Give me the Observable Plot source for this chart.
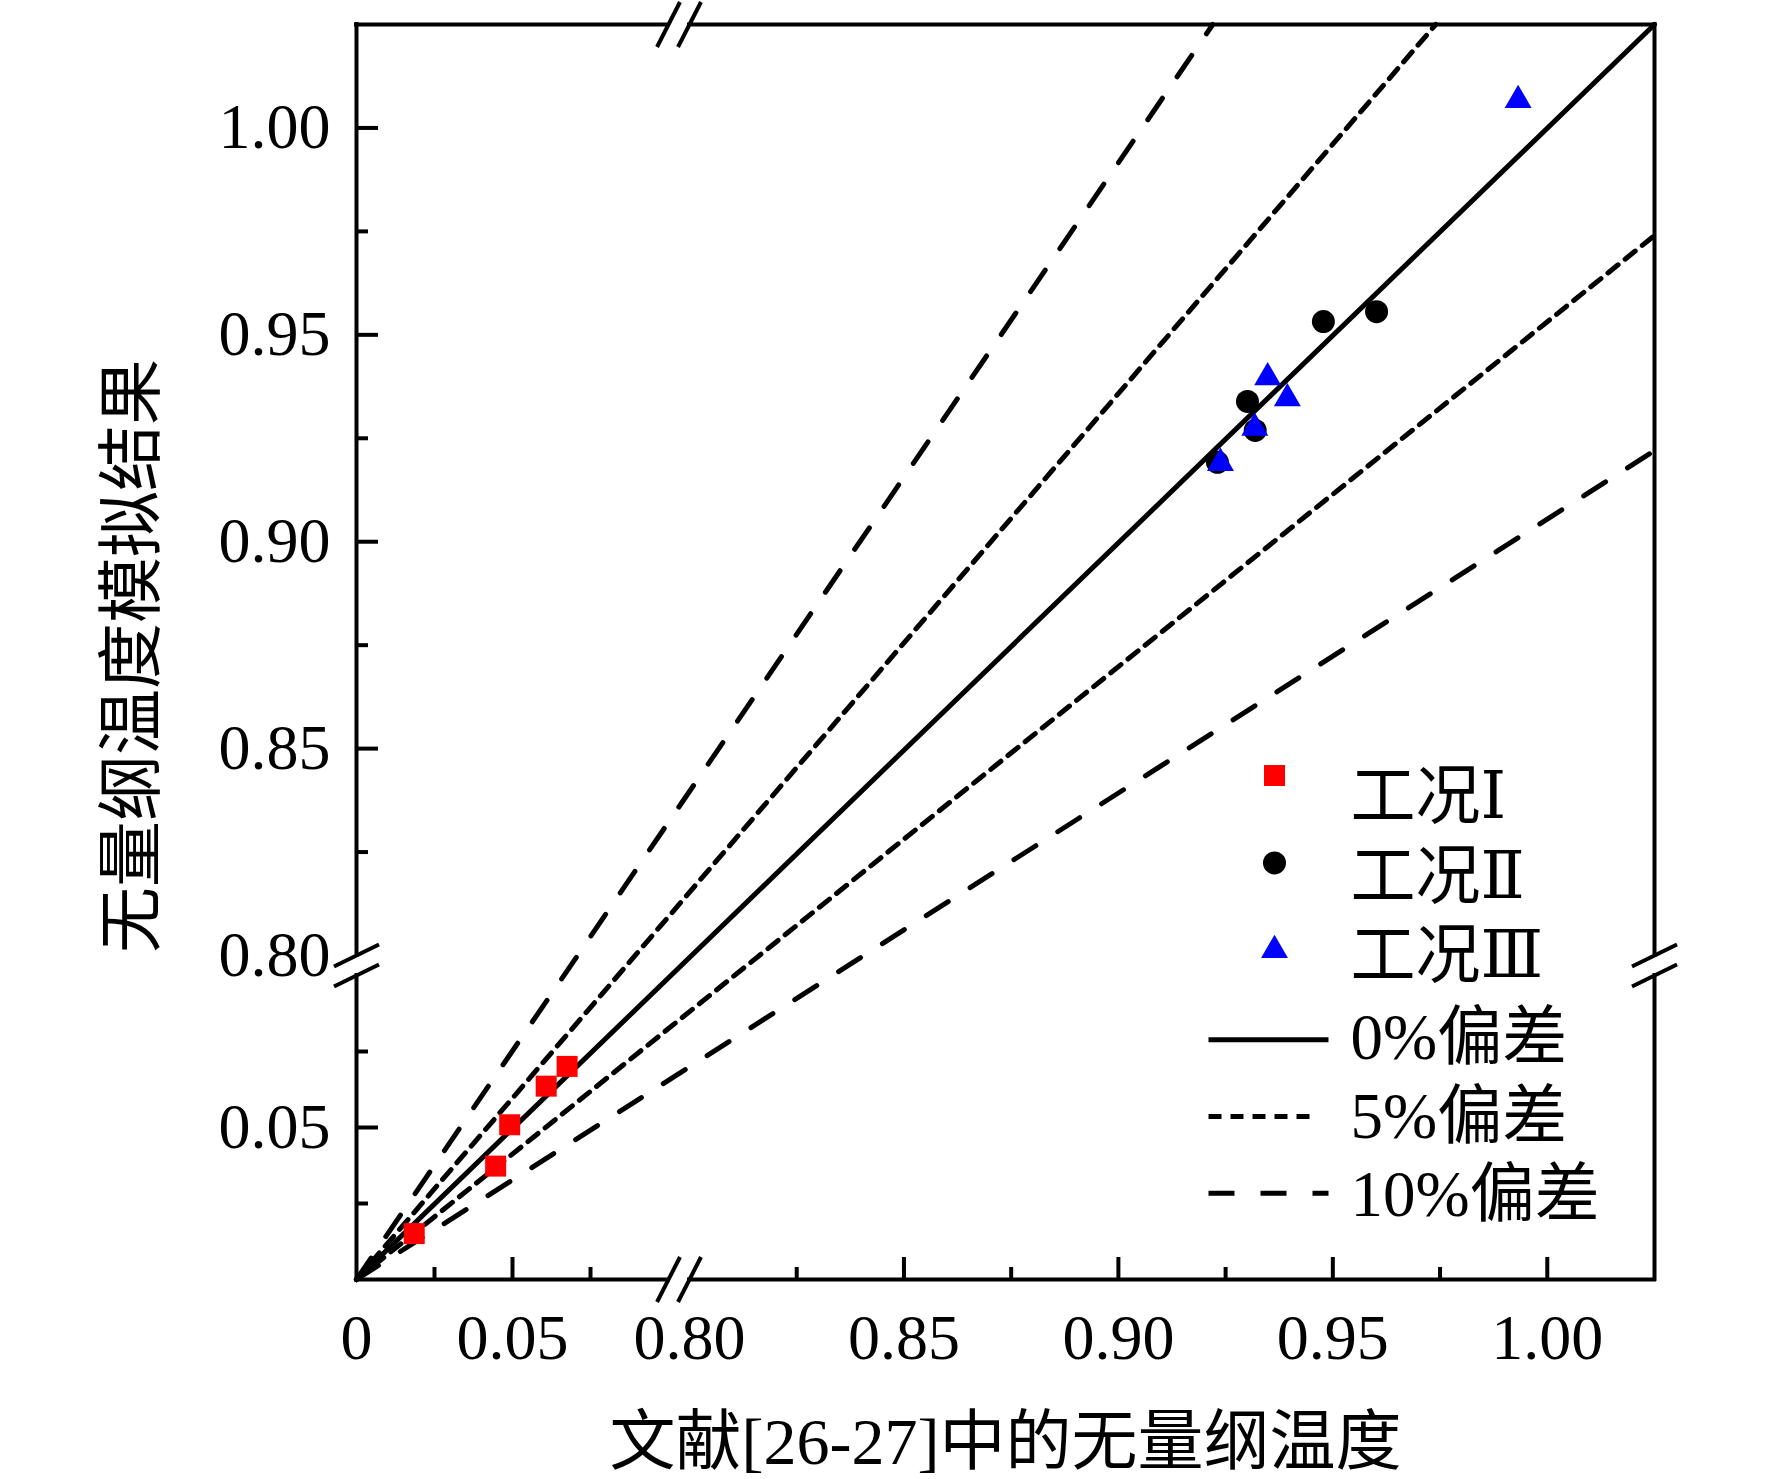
<!DOCTYPE html>
<html>
<head>
<meta charset="utf-8">
<script src="https://cdn.jsdelivr.net/npm/d3@7"></script>
<script src="https://cdn.jsdelivr.net/npm/@observablehq/plot@0.6"></script>
<style>
html, body { margin: 0; padding: 0; background: #fff; overflow: hidden; }
#chart svg { display: block; }
</style>
</head>
<body>
<div id="chart"></div>
<script>
// ---- data ----
const case1X = [0.0185, 0.0446, 0.0491, 0.0608, 0.0675];
const case1Y = [0.0151, 0.0373, 0.0509, 0.0636, 0.0701];
const case2X = [0.9478, 0.9602, 0.9301, 0.9319, 0.9231];
const case2Y = [0.9532, 0.9556, 0.9339, 0.9269, 0.9192];
const case3X = [0.9348, 0.9394, 0.9318, 0.9238, 0.9932];
const case3Y = [0.9397, 0.9346, 0.9275, 0.9190, 1.0067];
const seriesNames = ["工况Ⅰ", "工况Ⅱ", "工况Ⅲ"];
const lineNames = ["0%偏差", "5%偏差", "10%偏差"];

// reference (deviation) lines: start at origin, end where they leave the frame
const refGroup = ["0%", "5%", "5%", "10%", "10%"];
const refEndX = [1.025, 0.974, 1.025, 0.922, 1.025];
const refEndY = [1.025, 1.025, 0.974, 1.025, 0.922];

// axes (broken at 0.1 | 0.8)
const axisDomain = [0, 0.1, 0.8, 1.025];
const xMajor = [0, 0.05, 0.80, 0.85, 0.90, 0.95, 1.00];
const xMajorLabels = ["0", "0.05", "0.80", "0.85", "0.90", "0.95", "1.00"];
const yMajor = [0.05, 0.80, 0.85, 0.90, 0.95, 1.00];
const yMajorLabels = ["0.05", "0.80", "0.85", "0.90", "0.95", "1.00"];
const xTickMajor = [0.05, 0.85, 0.90, 0.95, 1.00];
const xTickMinor = [0.025, 0.075, 0.825, 0.875, 0.925, 0.975];
const yTickMajor = [0.05, 0.85, 0.90, 0.95, 1.00];
const yTickMinor = [0.025, 0.075, 0.825, 0.875, 0.925, 0.975];
const breakValues = [0.1, 0.8];
const xTitle = "文献[26-27]中的无量纲温度";
const yTitle = "无量纲温度模拟结果";

// ---- build tables ----
const toRows = (xs, ys) => xs.map((x, i) => ({x, y: ys[i]}));
const pts1 = toRows(case1X, case1Y);
const pts2 = toRows(case2X, case2Y);
const pts3 = toRows(case3X, case3Y);
const refRows = [];
refGroup.forEach((g, i) => {
  refRows.push({id: i, g, x: 0, y: 0});
  refRows.push({id: i, g, x: refEndX[i], y: refEndY[i]});
});

const W = 1772, H = 1479;
const mL = 356, mR = 118, mT = 24, mB = 200;
const frameW = W - mL - mR, frameH = H - mT - mB;

const FONT = "'Liberation Serif', 'Times New Roman', 'DejaVu Serif', 'Noto Sans CJK SC', serif";
const ink = "#000";
const frameSW = 4, lineSW = 5;
const DOTTED = "13,9", DASHED = "26,26";

// break marks (short parallel slashes)
const slashOnX = {draw(ctx) { ctx.moveTo(-11.5, 22.5); ctx.lineTo(11.5, -22.5); }};
const slashOnY = {draw(ctx) { ctx.moveTo(-22.5, 11); ctx.lineTo(22.5, -11); }};
// legend line samples
const legendSeg = (len) => ({draw(ctx) { ctx.moveTo(-60, 0); ctx.lineTo(-60 + len, 0); }});

const marks = [];

// reference lines
marks.push(Plot.line(refRows.filter(d => d.g === "0%"), {x: "x", y: "y", z: "id", stroke: ink, strokeWidth: lineSW}));
marks.push(Plot.line(refRows.filter(d => d.g === "5%"), {x: "x", y: "y", z: "id", stroke: ink, strokeWidth: lineSW, strokeDasharray: DOTTED}));
marks.push(Plot.line(refRows.filter(d => d.g === "10%"), {x: "x", y: "y", z: "id", stroke: ink, strokeWidth: lineSW, strokeDasharray: DASHED}));

// frame with breaks
for (const [a, b] of [[0, 0.1], [0.8, 1.025]]) {
  marks.push(Plot.ruleY([0, 1.025], {y: d => d, x1: a, x2: b, stroke: ink, strokeWidth: frameSW, strokeLinecap: "square"}));
  marks.push(Plot.ruleX([0, 1.025], {x: d => d, y1: a, y2: b, stroke: ink, strokeWidth: frameSW, strokeLinecap: "square"}));
}
marks.push(Plot.dot(breakValues, {x: d => d, y: 0, symbol: slashOnX, r: 10, fill: "none", stroke: ink, strokeWidth: frameSW}));
marks.push(Plot.dot(breakValues, {x: d => d, y: 1.025, symbol: slashOnX, r: 10, fill: "none", stroke: ink, strokeWidth: frameSW}));
marks.push(Plot.dot(breakValues, {y: d => d, x: 0, symbol: slashOnY, r: 10, fill: "none", stroke: ink, strokeWidth: frameSW}));
marks.push(Plot.dot(breakValues, {y: d => d, x: 1.025, symbol: slashOnY, r: 10, fill: "none", stroke: ink, strokeWidth: frameSW}));

// inward ticks
marks.push(Plot.tickX(xTickMajor, {x: d => d, insetTop: frameH - 22, stroke: ink, strokeWidth: frameSW}));
marks.push(Plot.tickX(xTickMinor, {x: d => d, insetTop: frameH - 12, stroke: ink, strokeWidth: frameSW}));
marks.push(Plot.tickY(yTickMajor, {y: d => d, insetRight: frameW - 22, stroke: ink, strokeWidth: frameSW}));
marks.push(Plot.tickY(yTickMinor, {y: d => d, insetRight: frameW - 12, stroke: ink, strokeWidth: frameSW}));

// tick labels
marks.push(Plot.text(xMajor, {x: d => d, text: (d, i) => xMajorLabels[i], frameAnchor: "bottom", dy: 34, textAnchor: "middle", lineAnchor: "top", fontSize: 64, fill: ink}));
marks.push(Plot.text(yMajor, {y: d => d, text: (d, i) => yMajorLabels[i], frameAnchor: "left", dx: -26, textAnchor: "end", lineAnchor: "middle", fontSize: 64, fill: ink}));

// axis titles
marks.push(Plot.text([xTitle], {text: d => d, frameAnchor: "bottom", dy: 163, textAnchor: "middle", lineAnchor: "middle", fontSize: 66, fill: ink}));
marks.push(Plot.text([yTitle], {text: d => d, frameAnchor: "left", dx: -224, dy: 4, rotate: -90, textAnchor: "middle", lineAnchor: "middle", fontSize: 66, fill: ink}));

// data points
marks.push(Plot.dot(pts2, {x: "x", y: "y", symbol: "circle", r: 11.5, fill: "#000", stroke: "none"}));
marks.push(Plot.dot(pts1, {x: "x", y: "y", symbol: "square", r: 11.85, fill: "#ff0000", stroke: "none"}));
marks.push(Plot.dot(pts3, {x: "x", y: "y", symbol: "triangle", r: 10, fill: "#0000ff", stroke: "none"}));

// legend
const legendSymbols = [
  {symbol: "square", fill: "#ff0000", r: 11.85},
  {symbol: "circle", fill: "#000", r: 11.5},
  {symbol: "triangle", fill: "#0000ff", r: 10}
];
seriesNames.forEach((name, i) => {
  const s = legendSymbols[i];
  marks.push(Plot.dot([name], {frameAnchor: "top-left", dx: 918, dy: 751 + i * 87.4, symbol: s.symbol, fill: s.fill, r: s.r, stroke: "none"}));
  marks.push(Plot.text([name], {text: d => d, frameAnchor: "top-left", dx: 994, dy: 773 + i * 79.3, textAnchor: "start", lineAnchor: "middle", fontSize: 65, fill: ink}));
});
const legendDash = [null, DOTTED, DASHED];
const legendLen = [120, 102, 120];
lineNames.forEach((name, i) => {
  marks.push(Plot.dot([name], {frameAnchor: "top-left", dx: 912, dy: 1015.3 + i * 76.7, symbol: legendSeg(legendLen[i]), r: 10, fill: "none", stroke: ink, strokeWidth: lineSW, strokeDasharray: legendDash[i] || undefined}));
  marks.push(Plot.text([name], {text: d => d, frameAnchor: "top-left", dx: 994, dy: 1014 + i * 78.5, textAnchor: "start", lineAnchor: "middle", fontSize: 65, fill: ink}));
});

const chart = Plot.plot({
  width: W,
  height: H,
  marginLeft: mL,
  marginRight: mR,
  marginTop: mT,
  marginBottom: mB,
  style: {fontFamily: FONT, background: "#fff", color: ink, overflow: "visible"},
  x: {type: "linear", domain: axisDomain, range: [356, 668, 689, 1654], axis: null},
  y: {type: "linear", domain: axisDomain, range: [1279, 975, 955, 24], axis: null},
  marks
});
document.getElementById("chart").appendChild(chart);
</script>
</body>
</html>
